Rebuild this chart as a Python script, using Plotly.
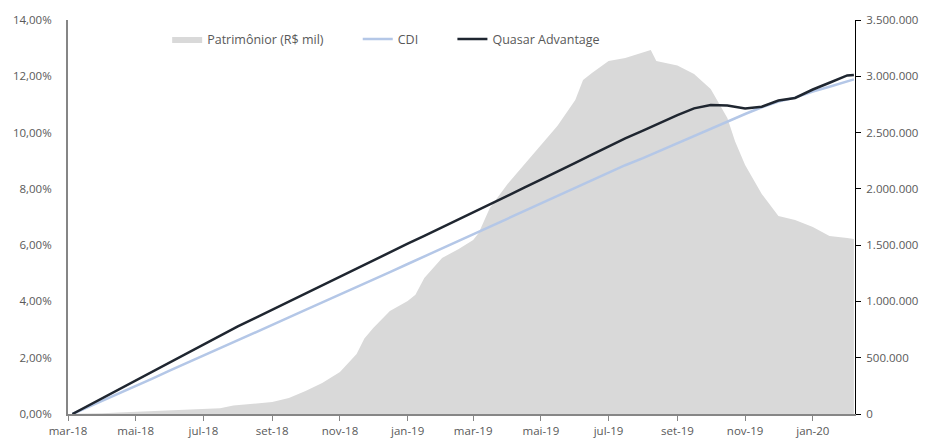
import plotly.graph_objects as go

# ---- data ----
line_dates = [
    "2018-03-05", "2018-03-16", "2018-04-01", "2018-04-16", "2018-05-01", "2018-05-16",
    "2018-06-01", "2018-06-16", "2018-07-01", "2018-07-16", "2018-08-01", "2018-08-16",
    "2018-09-01", "2018-09-16", "2018-10-01", "2018-10-16", "2018-11-01", "2018-11-16",
    "2018-12-01", "2018-12-16", "2019-01-01", "2019-01-16", "2019-02-01", "2019-02-16",
    "2019-03-01", "2019-03-16", "2019-04-01", "2019-04-16", "2019-05-01", "2019-05-16",
    "2019-06-01", "2019-06-16", "2019-07-01", "2019-07-16", "2019-08-01", "2019-08-16",
    "2019-09-01", "2019-09-16", "2019-10-01", "2019-10-16", "2019-11-01", "2019-11-16",
    "2019-12-01", "2019-12-16", "2020-01-01", "2020-01-16", "2020-02-01", "2020-02-07",
]
quasar_pct = [
    0.00, 0.23, 0.57, 0.88, 1.19, 1.51,
    1.85, 2.16, 2.48, 2.79, 3.11, 3.40,
    3.71, 4.00, 4.29, 4.58, 4.88, 5.17,
    5.46, 5.75, 6.05, 6.33, 6.63, 6.92,
    7.17, 7.45, 7.75, 8.04, 8.33, 8.61,
    8.92, 9.22, 9.51, 9.79, 10.07, 10.34,
    10.62, 10.86, 10.98, 10.96, 10.86, 10.92,
    11.14, 11.23, 11.53, 11.77, 12.03, 12.05,
]
cdi_pct = [
    0.00, 0.19, 0.47, 0.74, 1.00, 1.26,
    1.55, 1.81, 2.08, 2.34, 2.62, 2.89,
    3.17, 3.43, 3.70, 3.96, 4.24, 4.51,
    4.78, 5.04, 5.33, 5.60, 5.88, 6.15,
    6.38, 6.65, 6.94, 7.21, 7.48, 7.75,
    8.04, 8.31, 8.58, 8.84, 9.09, 9.35,
    9.62, 9.88, 10.13, 10.38, 10.66, 10.90,
    11.10, 11.24, 11.46, 11.63, 11.82, 11.89,
]

aum_dates = [
    "2018-03-05", "2018-03-16", "2018-04-01", "2018-04-16", "2018-05-01", "2018-05-16",
    "2018-06-01", "2018-06-16", "2018-07-01", "2018-07-16", "2018-07-28", "2018-08-16",
    "2018-09-01", "2018-09-16", "2018-10-01", "2018-10-16", "2018-11-01", "2018-11-16",
    "2018-11-23", "2018-12-01", "2018-12-08", "2018-12-16", "2019-01-01", "2019-01-08",
    "2019-01-16", "2019-02-01", "2019-02-16", "2019-03-01", "2019-03-06", "2019-03-16",
    "2019-04-01", "2019-04-16", "2019-05-01", "2019-05-16", "2019-06-01", "2019-06-08",
    "2019-06-16", "2019-07-01", "2019-07-16", "2019-08-01", "2019-08-08", "2019-08-13",
    "2019-09-01", "2019-09-16", "2019-10-01", "2019-10-16", "2019-10-23", "2019-11-01",
    "2019-11-08", "2019-11-16", "2019-12-01", "2019-12-16", "2020-01-01", "2020-01-16",
    "2020-02-01", "2020-02-07",
]
aum_value = [
    3000, 4000, 7000, 14000, 21000, 27000,
    32000, 37000, 43000, 51000, 75000, 91000,
    107000, 142000, 204000, 275000, 373000, 533000,
    670000, 764000, 835000, 915000, 1004000, 1060000,
    1208000, 1386000, 1466000, 1546000, 1608000, 1830000,
    2043000, 2212000, 2381000, 2560000, 2790000, 2967000,
    3030000, 3136000, 3162000, 3207000, 3233000, 3135000,
    3096000, 3020000, 2887000, 2629000, 2420000, 2212000,
    2096000, 1954000, 1759000, 1723000, 1661000, 1581000,
    1563000, 1554000,
]

tick_dates = ["2018-03-01", "2018-05-01", "2018-07-01", "2018-09-01", "2018-11-01",
              "2019-01-01", "2019-03-01", "2019-05-01", "2019-07-01", "2019-09-01",
              "2019-11-01", "2020-01-01"]
tick_labels = ["mar-18", "mai-18", "jul-18", "set-18", "nov-18", "jan-19",
               "mar-19", "mai-19", "jul-19", "set-19", "nov-19", "jan-20"]
pct_ticks = [0, 2, 4, 6, 8, 10, 12, 14]
pct_labels = ["0,00%", "2,00%", "4,00%", "6,00%", "8,00%", "10,00%", "12,00%", "14,00%"]
aum_ticks = [0, 500000, 1000000, 1500000, 2000000, 2500000, 3000000, 3500000]
aum_labels = ["0", "500.000", "1.000.000", "1.500.000", "2.000.000", "2.500.000",
              "3.000.000", "3.500.000"]

FONT = "Open Sans"
GRAY = "#595959"
PAD = "\u00a0" * 9

fig = go.Figure()
fig.add_trace(go.Scatter(
    x=aum_dates, y=aum_value, name="Patrimônior (R$ mil)" + PAD, mode="lines",
    line=dict(width=0, color="#d9d9d9"), fill="tozeroy", fillcolor="#d9d9d9",
    yaxis="y",
))
fig.add_trace(go.Scatter(
    x=line_dates, y=cdi_pct, name="CDI" + PAD, mode="lines",
    line=dict(width=2.5, color="#b4c7e7"), yaxis="y2",
))
fig.add_trace(go.Scatter(
    x=line_dates, y=quasar_pct, name="Quasar Advantage", mode="lines",
    line=dict(width=2.5, color="#1f2630"), yaxis="y2",
))

fig.update_layout(
    width=931, height=438,
    margin=dict(l=68, r=76, t=20, b=24, autoexpand=False),
    paper_bgcolor="white", plot_bgcolor="white",
    font=dict(family=FONT, size=11.5, color=GRAY),
    showlegend=True,
    legend=dict(
        orientation="h", x=0.126, y=0.951, xanchor="left", yanchor="middle",
        font=dict(family=FONT, size=12.5, color=GRAY), bgcolor="rgba(0,0,0,0)",
        itemwidth=30, traceorder="normal",
    ),
    xaxis=dict(
        type="date", range=["2018-03-01", "2020-02-08"], automargin=False,
        tickvals=tick_dates, ticktext=tick_labels,
        showgrid=False, zeroline=False,
        showline=True, linecolor="#868686", linewidth=2,
        ticks="outside", ticklen=5, tickcolor="#868686", tickwidth=1,
        tickfont=dict(family=FONT, size=11.5, color=GRAY),
    ),
    yaxis=dict(
        side="right", range=[0, 3500000], tickvals=aum_ticks, ticktext=aum_labels,
        automargin=False, showgrid=False, zeroline=False,
        showline=True, linecolor="#000000", linewidth=1,
        ticks="outside", ticklen=5, tickcolor="#000000",
        tickfont=dict(family=FONT, size=11.5, color=GRAY),
        ticklabelstandoff=3,
    ),
    yaxis2=dict(
        side="left", overlaying="y", range=[0, 14], tickvals=pct_ticks,
        ticktext=pct_labels, automargin=False, showgrid=False, zeroline=False,
        showline=True, linecolor="#868686", linewidth=2,
        ticks="", tickfont=dict(family=FONT, size=11.5, color=GRAY),
        ticklabelstandoff=12,
    ),
)

fig.write_html(
    "out.html",
    config={"displayModeBar": False},
    post_script="document.body.style.margin='0px';document.body.style.overflow='hidden';",
)
